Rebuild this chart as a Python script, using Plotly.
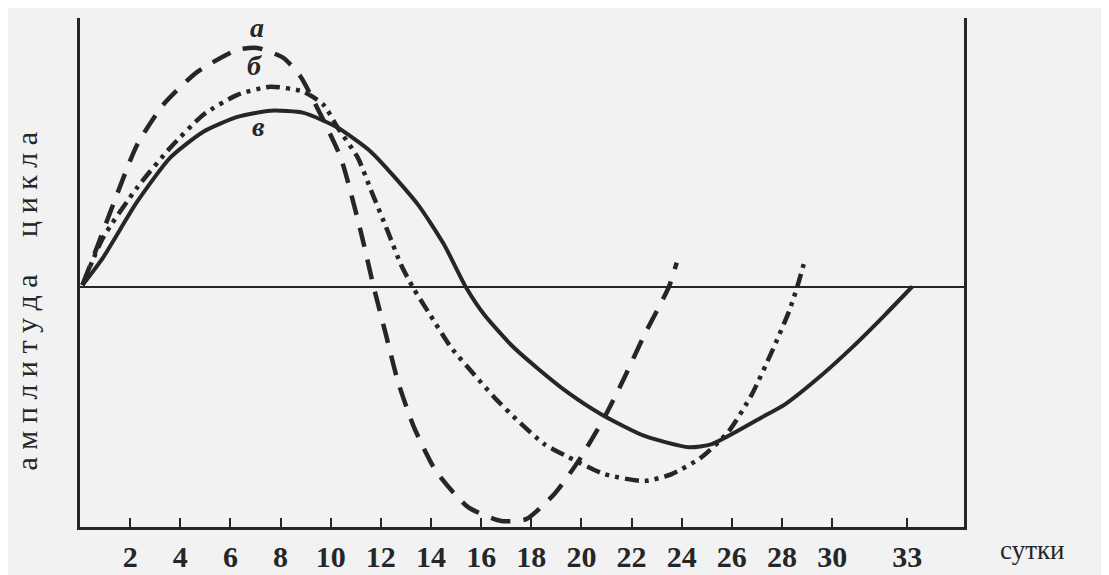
import plotly.graph_objects as go

# ---- data ----
tick_vals = [2, 4, 6, 8, 10, 12, 14, 16, 18, 20, 22, 24, 26, 28, 30, 33]
tick_text = ["2", "4", "6", "8", "10", "12", "14", "16", "18", "20", "22", "24", "26", "28", "30", "33"]

# curve "а" (dashed, 23-day cycle)
days_a = [0.1, 0.72, 1.32, 2.28, 3.32, 4.68, 6.28, 7.08, 8.12, 8.8, 9.4, 10.4, 11.2, 11.72,
          12.2, 12.68, 13.32, 14.2, 15.48, 16.8, 17.8, 18.92, 19.88, 20.92, 21.72, 22.52, 23.48, 23.8]
amp_a = [0.01, 0.179, 0.346, 0.596, 0.763, 0.9, 0.992, 1.0, 0.958, 0.88, 0.763, 0.542, 0.233, 0,
         -0.196, -0.392, -0.583, -0.767, -0.917, -0.975, -0.967, -0.862, -0.725, -0.542, -0.375, -0.196, 0, 0.104]

# curve "б" (dash-dot-dot, 28-day cycle)
days_b = [0.1, 0.92, 2.28, 3.6, 4.92, 6.28, 7.6, 8.92, 9.72, 10.28, 11.08, 11.6, 12.28, 12.8, 13.28,
          13.88, 14.8, 15.72, 16.52, 17.48, 18.52, 19.48, 20.92, 22.52, 23.6, 24.8, 25.88, 26.8,
          27.6, 28.28, 28.6, 28.92]
amp_b = [0.01, 0.208, 0.417, 0.583, 0.721, 0.804, 0.838, 0.817, 0.762, 0.667, 0.542, 0.408, 0.233, 0.096, 0,
         -0.1, -0.25, -0.363, -0.458, -0.558, -0.654, -0.708, -0.779, -0.808, -0.779, -0.708, -0.6, -0.446,
         -0.267, -0.1, 0, 0.117]

# curve "в" (solid, 33-day cycle)
days_c = [0.1, 0.92, 2.28, 3.6, 4.92, 6.28, 7.6, 8.92, 10.28, 11.6, 13.48, 14.52, 15.4, 16.12,
          17.2, 18.28, 19.48, 20.8, 22.52, 24.28, 25.2, 27.2, 28.12, 29.48, 30.8, 32.12, 33.2]
amp_c = [0.01, 0.125, 0.358, 0.542, 0.65, 0.712, 0.738, 0.729, 0.667, 0.567, 0.346, 0.179, 0, -0.113,
         -0.24, -0.34, -0.44, -0.53, -0.62, -0.667, -0.654, -0.542, -0.488, -0.375, -0.25, -0.113, 0.004]

curve_labels = ["а", "б", "в"]
label_days = [7.06, 6.98, 7.1]
label_amps = [1.085, 0.925, 0.672]

x_title = "сутки"
y_title = "а м п л и т у д а\u00a0\u00a0\u00a0\u00a0 ц и к л а"

INK = "#262626"
PAPER = "#f2f2f3"
SERIF = "Liberation Serif, Times New Roman, serif"

fig = go.Figure()
fig.add_trace(go.Scatter(x=days_a, y=amp_a, mode="lines",
                         line=dict(color=INK, width=4.5, dash="20px,13px", shape="spline", smoothing=0.6),
                         showlegend=False, hoverinfo="skip"))
fig.add_trace(go.Scatter(x=days_b, y=amp_b, mode="lines",
                         line=dict(color=INK, width=4.5, dash="14px,6px,4px,6px,4px,6px", shape="spline", smoothing=0.6),
                         showlegend=False, hoverinfo="skip"))
fig.add_trace(go.Scatter(x=days_c, y=amp_c, mode="lines",
                         line=dict(color=INK, width=4, shape="spline", smoothing=0.6),
                         showlegend=False, hoverinfo="skip"))

for t, xd, yd in zip(curve_labels, label_days, label_amps):
    fig.add_annotation(x=xd, y=yd, xref="x", yref="y", text="<b><i>%s</i></b>" % t, showarrow=False,
                       font=dict(family=SERIF, size=28, color=INK), xanchor="center", yanchor="middle")

fig.add_annotation(x=1.077, y=-0.045, xref="paper", yref="paper", text=x_title, showarrow=False,
                   font=dict(family=SERIF, size=27, color=INK), xanchor="center", yanchor="middle")
fig.add_annotation(x=-0.06, y=0.445, xref="paper", yref="paper", text=y_title, showarrow=False,
                   textangle=-90, font=dict(family=SERIF, size=30, color=INK),
                   xanchor="center", yanchor="middle")

fig.update_layout(
    width=1109, height=575,
    margin=dict(l=72, r=153, t=10, b=54),
    paper_bgcolor=PAPER, plot_bgcolor=PAPER,
    showlegend=False,
    xaxis=dict(range=[0, 35.26], showgrid=False, zeroline=False,
               showline=True, linecolor=INK, linewidth=2.5, mirror=False,
               tickmode="array", tickvals=tick_vals, ticktext=tick_text,
               ticks="inside", ticklen=9, tickwidth=2, tickcolor=INK,
               tickfont=dict(family=SERIF, size=30, color=INK, weight="bold"),
               ticklabelstandoff=1, fixedrange=True),
    yaxis=dict(range=[-1.0, 1.125], showgrid=False,
               zeroline=True, zerolinecolor=INK, zerolinewidth=2,
               showline=True, linecolor=INK, linewidth=2.5, mirror=True,
               showticklabels=False, ticks="", fixedrange=True),
)

fig.write_html("out.html")
